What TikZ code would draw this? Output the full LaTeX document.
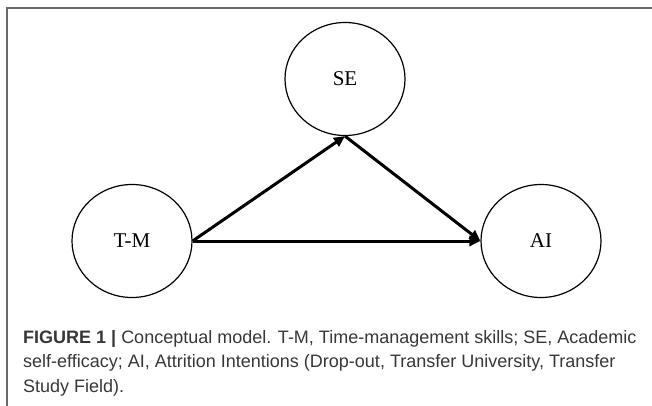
\documentclass[tikz,border=0pt]{standalone}
\usepackage{fontspec}
\setmainfont{Liberation Serif}
\newfontfamily\captionfont{Liberation Sans}
\usepackage{xcolor}
\usepackage{tikz}
\usetikzlibrary{arrows.meta, positioning, shapes.geometric}
\definecolor{framegray}{RGB}{105,105,105}
\definecolor{captiongray}{RGB}{55,55,55}

\begin{document}
\begin{tikzpicture}[
    x=1pt, y=-1pt,
    every node/.style={font=\fontsize{21}{24}\selectfont},
    construct/.style={ellipse, draw=black, line width=1.2pt,
                      minimum width=120pt, minimum height=113pt, inner sep=0pt},
    path/.style={-{Triangle[length=11pt,width=10pt]}, line width=3pt}
]
\useasboundingbox (0,0) rectangle (652,406);

% --- Marco de la figura ---
\draw[framegray, line width=1.5pt] (652,8) -- (7,8) -- (7,406);

% --- Constructos ---
\node[construct] (se) at (345,79) {SE};
\node[construct] (tm) at (132,241) {T-M};
\node[construct] (ai) at (541,241) {AI};

% --- Relaciones ---
\draw[path] (tm.east) -- (se.south);
\draw[path] (se.south) -- (ai.west);
\draw[path] (tm.east) -- (ai.west);

% --- Leyenda ---
\node[anchor=north west, inner sep=0pt, align=left, text=captiongray,
      font=\captionfont\fontsize{18}{24.5}\selectfont] (cap) at (23,330)
    {\textbf{FIGURE 1 |} Conceptual model. T-M, Time-management skills; SE, Academic\\
     self-efficacy; AI, Attrition Intentions (Drop-out, Transfer University, Transfer\\
     Study Field).};
\end{tikzpicture}
\end{document}
